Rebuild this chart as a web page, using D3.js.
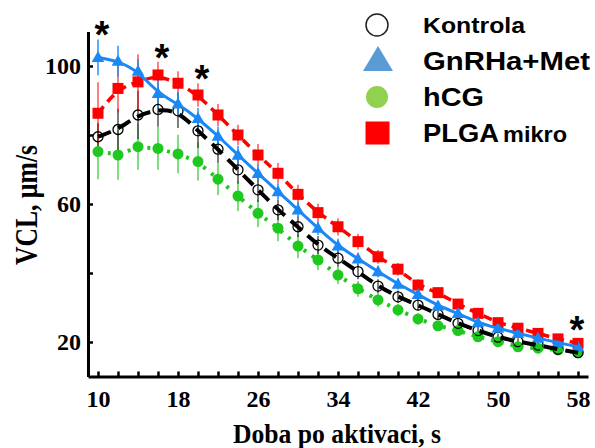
<!DOCTYPE html>
<html>
<head>
<meta charset="utf-8">
<script src="https://cdn.jsdelivr.net/npm/d3@7"></script>
<style>
  html, body { margin: 0; padding: 0; background: #fff; }
  svg { display: block; }
</style>
</head>
<body>
<svg id="chart" width="595" height="448"></svg>
<script>
// time after activation, s
const times = [10, 12, 14, 16, 18, 20, 22, 24, 26, 28, 30, 32, 34, 36, 38, 40, 42, 44, 46, 48, 50, 52, 54, 56, 58];

const kontrola = [79.5, 81.6, 85.8, 87.4, 87.0, 81.2, 75.9, 69.9, 64.1, 58.3, 53.4, 48.1, 44.3, 40.4, 36.2, 33.1, 30.7, 28.0, 25.4, 23.3, 21.4, 20.1, 19.1, 17.9, 16.9];
const kontrolaErr = [4, 6, 7, 5, 5, 5, 4, 4, 3.5, 3, 3, 2.6, 2.4, 2.2, 2, 1.8, 1.6, 1.4, 1.3, 1.2, 1.1, 1, 1, 0.9, 0.8];

const gnrha = [102.5, 101.4, 98.5, 92.1, 89.0, 84.8, 79.7, 74.2, 68.9, 63.6, 58.3, 53.0, 47.9, 44.1, 40.4, 36.8, 33.8, 30.5, 28.3, 25.6, 24.0, 22.5, 21.1, 19.8, 18.6];
const gnrhaErr = [5.2, 4.5, 3.5, 4.5, 3.5, 3, 2.8, 2.6, 2.5, 2.3, 2.2, 2, 2, 1.8, 1.7, 1.6, 1.5, 1.4, 1.3, 1.2, 1.1, 1, 1, 1, 0.9];

const hcg = [75.2, 74.2, 76.6, 76.1, 74.5, 72.3, 67.2, 62.3, 57.3, 53.0, 47.8, 43.8, 39.4, 35.4, 32.2, 29.3, 26.7, 24.7, 23.3, 21.5, 20.1, 18.6, 18.2, 17.7, 16.9];
const hcgErr = [8, 7.2, 6.7, 6.2, 5.6, 5.5, 4.6, 4.3, 4, 3.8, 3.5, 3, 2.6, 2.3, 2, 1.8, 1.6, 1.4, 1.2, 1.1, 1, 1, 0.9, 0.9, 0.8];

const plga = [86.3, 93.5, 95.4, 97.4, 95.0, 91.6, 85.8, 80.0, 74.2, 68.9, 62.8, 57.5, 53.4, 49.1, 44.7, 41.1, 36.5, 34.3, 31.0, 28.3, 25.6, 24.0, 22.5, 20.9, 19.6];
const plgaErr = [9, 7, 8, 3.8, 3.5, 3.4, 3.2, 3, 3.2, 3, 2.8, 2.6, 2.5, 2.3, 2, 1.8, 1.7, 1.5, 1.4, 1.3, 1.2, 1.1, 1, 1, 0.9];

// significance marks
const sigTimes = [10.4, 16.4, 20.4, 57.9];
const sigValues = [111.2, 104.6, 98.6, 25.8];

const xTicks = [10, 18, 26, 34, 42, 50, 58];
const yTicks = [20, 60, 100];

const legendLabels = ["Kontrola", "GnRHa+Met", "hCG", "PLGA"];
const legendSuffix = ["", "", "", "mikro"];

const svg = d3.select("#chart");

const x = d3.scaleLinear().domain([9, 59]).range([88, 588]);
const y = d3.scaleLinear().domain([10, 110]).range([376.5, 31.5]);

const serif = "'Liberation Serif', 'Times New Roman', serif";
const sans = "'Liberation Sans', Arial, sans-serif";

const series = [
  { key: "hcg", vals: hcg, err: hcgErr, color: "#1fc81f", errColor: "rgba(40,200,40,0.6)", dash: "3,7", width: 4, mark: "dot" },
  { key: "kontrola", vals: kontrola, err: kontrolaErr, color: "#000", errColor: "rgba(40,40,40,0.6)", dash: "14,8", width: 4, mark: "ring" },
  { key: "plga", vals: plga, err: plgaErr, color: "#ff0000", errColor: "rgba(255,0,0,0.5)", dash: "9,6", width: 3.5, mark: "square" },
  { key: "gnrha", vals: gnrha, err: gnrhaErr, color: "#1a88f5", errColor: "rgba(26,136,245,0.7)", dash: null, width: 3, mark: "triangle" },
];

const fit = d3.line()
  .curve(d3.curveBasis)
  .x((d, i) => x(times[i]))
  .y((d) => y(d));

const plot = svg.append("g");

// error bars first
for (const s of series) {
  plot.append("g")
    .selectAll("line")
    .data(s.vals)
    .join("line")
    .attr("x1", (d, i) => x(times[i]))
    .attr("x2", (d, i) => x(times[i]))
    .attr("y1", (d, i) => y(d + s.err[i]))
    .attr("y2", (d, i) => y(d - s.err[i]))
    .attr("stroke", s.errColor)
    .attr("stroke-width", 2);
}

// markers
for (const s of series) {
  const g = plot.append("g");
  if (s.mark === "ring") {
    g.selectAll("circle").data(s.vals).join("circle")
      .attr("cx", (d, i) => x(times[i])).attr("cy", (d) => y(d))
      .attr("r", 5).attr("fill", "none").attr("stroke", "#000").attr("stroke-width", 1.3);
  } else if (s.mark === "dot") {
    g.selectAll("circle").data(s.vals).join("circle")
      .attr("cx", (d, i) => x(times[i])).attr("cy", (d) => y(d))
      .attr("r", 5.5).attr("fill", s.color);
  } else if (s.mark === "square") {
    g.selectAll("rect").data(s.vals).join("rect")
      .attr("x", (d, i) => x(times[i]) - 5.5).attr("y", (d) => y(d) - 5.5)
      .attr("width", 11).attr("height", 11).attr("fill", s.color);
  } else {
    const tri = d3.symbol().type(d3.symbolTriangle).size(70);
    g.selectAll("path").data(s.vals).join("path")
      .attr("transform", (d, i) => `translate(${x(times[i])},${y(d) + 1})`)
      .attr("d", tri).attr("fill", s.color);
  }
}

// fitted curves on top
for (const s of series) {
  plot.append("path")
    .attr("d", fit(s.vals))
    .attr("fill", "none")
    .attr("stroke", s.color)
    .attr("stroke-width", s.width)
    .attr("stroke-dasharray", s.dash);
}

// axes
const xAxis = d3.axisBottom(x)
  .tickValues(d3.range(10, 59, 2))
  .tickSizeInner(-5)
  .tickSizeOuter(0)
  .tickPadding(13)
  .tickFormat((d) => (xTicks.includes(d) ? d : ""));

const yAxis = d3.axisLeft(y)
  .tickValues([20, 40, 60, 80, 100])
  .tickSizeInner(-5)
  .tickSizeOuter(0)
  .tickPadding(7)
  .tickFormat((d) => (yTicks.includes(d) ? d : ""));

for (const [axis, tr] of [[xAxis, "translate(0,376.5)"], [yAxis, "translate(88,0)"]]) {
  const g = svg.append("g").attr("transform", tr).call(axis);
  g.select(".domain").attr("stroke", "#000").attr("stroke-width", 3);
  g.selectAll(".tick line").attr("stroke", "#000").attr("stroke-width", 2.5);
  g.selectAll(".tick text")
    .attr("font-family", serif)
    .attr("font-weight", "bold")
    .attr("font-size", 24)
    .attr("fill", "#000");
}

// axis titles
svg.append("text")
  .attr("x", 233).attr("y", 443)
  .attr("textLength", 208).attr("lengthAdjust", "spacingAndGlyphs")
  .attr("font-family", serif).attr("font-weight", "bold").attr("font-size", 28)
  .text("Doba po aktivaci, s");

svg.append("text")
  .attr("transform", "translate(37,265) rotate(-90)")
  .attr("textLength", 120).attr("lengthAdjust", "spacingAndGlyphs")
  .attr("font-family", serif).attr("font-weight", "bold").attr("font-size", 32)
  .text("VCL, µm/s");

// asterisks
svg.append("g")
  .selectAll("text")
  .data(sigTimes)
  .join("text")
  .attr("x", (d) => x(d))
  .attr("y", (d, i) => y(sigValues[i]) + 21)
  .attr("text-anchor", "middle")
  .attr("font-family", sans).attr("font-weight", "bold").attr("font-size", 38)
  .text("*");

// legend
const legendY = [25, 60, 97, 133];
const legendWidths = [102, 167, 61, 76];
const legendSizes = [22.5, 26.5, 25, 25];
const lg = svg.append("g");
lg.append("circle").attr("cx", 377).attr("cy", legendY[0]).attr("r", 11)
  .attr("fill", "#fff").attr("stroke", "#222").attr("stroke-width", 1.5);
lg.append("path").attr("d", `M363,${legendY[1] + 11}L378,${legendY[1] - 14}L393,${legendY[1] + 11}Z`)
  .attr("fill", "#5b9bd5");
lg.append("circle").attr("cx", 377).attr("cy", legendY[2]).attr("r", 11).attr("fill", "#92d050");
lg.append("rect").attr("x", 365.5).attr("y", legendY[3] - 11.5).attr("width", 24).attr("height", 23)
  .attr("fill", "#ff0000");

legendLabels.forEach((label, i) => {
  lg.append("text")
    .attr("x", 423)
    .attr("y", legendY[i] + legendSizes[i] * 0.36)
    .attr("font-family", sans).attr("font-weight", "bold")
    .attr("font-size", legendSizes[i])
    .attr("textLength", legendWidths[i]).attr("lengthAdjust", "spacingAndGlyphs")
    .text(label);
  if (legendSuffix[i]) {
    lg.append("text")
      .attr("x", 503)
      .attr("y", legendY[i] + legendSizes[i] * 0.36)
      .attr("font-family", sans).attr("font-weight", "bold")
      .attr("font-size", 21.5)
      .attr("textLength", 64).attr("lengthAdjust", "spacingAndGlyphs")
      .text(legendSuffix[i]);
  }
});
</script>
</body>
</html>
